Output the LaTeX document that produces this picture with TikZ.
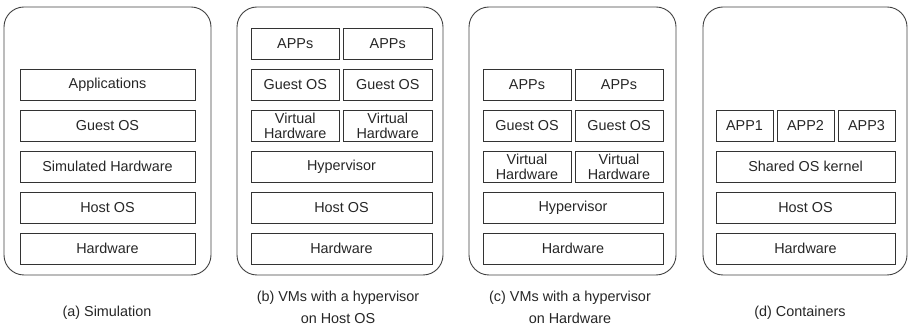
\documentclass[tikz,border=0pt]{standalone}
\usepackage{fontspec}
\setmainfont{Liberation Sans}
\usepackage{tikz}

\begin{document}
\begin{tikzpicture}[x=1pt,y=-1pt,
  layer/.style={draw=black!80,line width=0.9pt,minimum height=31pt,inner sep=0pt,
    text=black!85,font=\fontsize{14.4}{15}\selectfont,align=center},
  panel/.style={draw=black!75,line width=0.9pt,rounded corners=20pt,minimum height=268pt,inner sep=0pt},
  caption/.style={text=black!85,font=\fontsize{14.4}{21.5}\selectfont,align=center}]
\useasboundingbox (0,0) rectangle (908,328);
% outer frames
\node[panel,minimum width=207pt] (pa) at (107.5,141) {};
\node[panel,minimum width=206pt] (pb) at (340,141) {};
\node[panel,minimum width=207pt] (pc) at (572.5,141) {};
\node[panel,minimum width=204pt] (pd) at (805,141) {};
% (a) simulation
\foreach \y/\name/\txt in {84.5/aapp/Applications, 125.5/aguest/Guest OS, 166.5/asim/Simulated Hardware, 207.5/ahost/Host OS, 248.5/ahw/Hardware}
    \node[layer,minimum width=175pt] (\name) at (107.5,\y) {\txt};
% (b) hypervisor on host OS
\foreach \y/\name/\txt in {43.5/bapp/APPs, 84.5/bguest/Guest OS, 125.5/bvirt/Virtual\\Hardware} {
    \node[layer,minimum width=88.5pt] (\name-l) at (295.25,\y) {\txt};
    \node[layer,minimum width=88.5pt] (\name-r) at (387.75,\y) {\txt};
}
\foreach \y/\name/\txt in {166.5/bhyp/Hypervisor, 207.5/bhost/Host OS, 248.5/bhw/Hardware}
    \node[layer,minimum width=181pt] (\name) at (341.5,\y) {\txt};
% (c) hypervisor on hardware
\foreach \y/\name/\txt in {84.5/capp/APPs, 125.5/cguest/Guest OS, 166.5/cvirt/Virtual\\Hardware} {
    \node[layer,minimum width=88pt] (\name-l) at (527,\y) {\txt};
    \node[layer,minimum width=88pt] (\name-r) at (619,\y) {\txt};
}
\foreach \y/\name/\txt in {207.5/chyp/Hypervisor, 248.5/chw/Hardware}
    \node[layer,minimum width=180pt] (\name) at (573,\y) {\txt};
% (d) containers
\foreach \x/\n in {744.5/1, 805.5/2, 866.5/3}
    \node[layer,minimum width=57pt] (dapp\n) at (\x,125.5) {APP\n};
\foreach \y/\name/\txt in {166.5/dkern/Shared OS kernel, 207.5/dhost/Host OS, 248.5/dhw/Hardware}
    \node[layer,minimum width=179pt] (\name) at (805.5,\y) {\txt};
% captions
\node[caption] (capa) at (107,313) {(a) Simulation};
\node[caption] (capb) at (338,307.5) {(b) VMs with a hypervisor\\on Host OS};
\node[caption] (capc) at (570,307.5) {(c) VMs with a hypervisor\\on Hardware};
\node[caption] (capd) at (800,313) {(d) Containers};
\end{tikzpicture}
\end{document}
